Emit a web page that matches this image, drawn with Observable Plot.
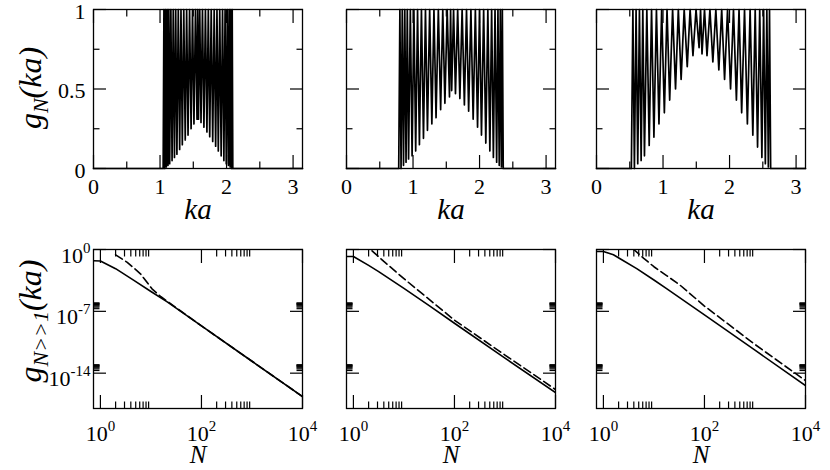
<!DOCTYPE html>
<html><head><meta charset="utf-8">
<script src="https://cdn.jsdelivr.net/npm/d3@7"></script>
<script src="https://cdn.jsdelivr.net/npm/@observablehq/plot@0.6"></script>
<style>
html,body{margin:0;padding:0;background:#fff;color:#000;}
#chart{position:relative;width:830px;height:470px;overflow:hidden;background:#fff;font-family:Liberation Serif;}
#chart svg{position:absolute;}
#chart svg text{font-family:Liberation Serif;}
</style></head><body><div id="chart"></div>
<script>
// ---------------- DATA: top row, g_N(ka) ----------------
const bandEdges = [[1.047, 2.094], [0.785, 2.356], [0.524, 2.618]];
const dipKa1 = [1.070,1.095,1.120,1.145,1.181,1.217,1.254,1.295,1.335,1.379,1.421,1.467,1.510,1.556,1.578,1.616,1.660,1.705,1.747,1.792,1.836,1.876,1.919,1.960,1.996,2.028,2.054,2.076];
const dipG1  = [0.00,0.01,0.02,0.03,0.05,0.07,0.09,0.12,0.15,0.18,0.21,0.25,0.28,0.31,0.31,0.29,0.26,0.23,0.20,0.17,0.14,0.11,0.08,0.05,0.03,0.02,0.01,0.00];
const dipKa2 = [0.820,0.857,0.895,0.933,0.986,1.040,1.096,1.157,1.217,1.283,1.346,1.415,1.479,1.548,1.581,1.638,1.704,1.772,1.836,1.904,1.970,2.029,2.094,2.155,2.208,2.257,2.296,2.329];
const dipG2  = [0.00,0.02,0.04,0.06,0.08,0.11,0.15,0.19,0.24,0.28,0.32,0.37,0.41,0.45,0.49,0.47,0.44,0.40,0.36,0.31,0.26,0.21,0.16,0.11,0.07,0.04,0.02,0.01];
const dipKa3 = [0.570,0.620,0.671,0.721,0.792,0.863,0.939,1.020,1.100,1.188,1.272,1.364,1.450,1.542,1.586,1.661,1.749,1.839,1.925,2.015,2.103,2.182,2.268,2.350,2.421,2.486,2.538,2.583];
const dipG3  = [0.00,0.03,0.05,0.08,0.145,0.197,0.28,0.35,0.43,0.50,0.56,0.64,0.71,0.76,0.72,0.71,0.67,0.62,0.56,0.50,0.43,0.35,0.28,0.21,0.135,0.07,0.03,0.01];
const kaMajor = [0, 1, 2, 3];
const kaMinor = [0.5, 1.5, 2.5];
const gMajor = [0, 0.5, 1];
const gMinor = [0.25, 0.75];

// ---------------- DATA: bottom row, g_{N>>1}(ka), log10 values ----------------
const solidN1 = [0.73, 1, 2, 4.6, 10, 21, 100, 1000, 10000];
const solidLog1 = [-1.28, -1.30, -2.17, -3.49, -4.75, -5.93, -8.65, -12.65, -16.65];
const dashN1 = [2, 3.4, 6.2, 10.5, 15.8, 31.6, 100, 1000, 10000];
const dashLog1 = [-0.60, -1.45, -2.75, -4.45, -5.35, -6.60, -8.65, -12.65, -16.65];
const solidN2 = [0.73, 1, 2, 3.16, 10, 31.6, 100, 1000, 10000];
const solidLog2 = [-0.79, -0.79, -1.80, -2.50, -4.40, -6.35, -8.35, -12.30, -16.20];
const dashN2 = [1.58, 2.19, 4, 10, 31.6, 100, 1000, 10000];
const dashLog2 = [0.80, 0.00, -1.35, -3.30, -5.65, -8.00, -11.95, -15.85];
const solidN3 = [0.73, 1, 1.58, 2.14, 4.57, 10, 17.8, 100, 1000, 10000];
const solidLog3 = [-0.22, -0.22, -0.60, -1.05, -2.17, -3.45, -4.42, -7.40, -11.40, -15.40];
const dashN3 = [2.5, 3.98, 6.3, 10, 17.8, 31.6, 100, 1000, 10000];
const dashLog3 = [0.90, 0.00, -1.00, -1.95, -2.95, -3.95, -6.40, -10.75, -14.85];
const nMajor = [1, 100, 10000];
const nMinor = [2,3,4,5,6,7,8,9,200,300,400,500,600,700,800,900];
const yMajorLog = [1, 1e-7, 1e-14];
const yMinorLog = [2e-7,3e-7,4e-7,5e-7,6e-7,7e-7,8e-7,9e-7,2e-14,3e-14,4e-14,5e-14,6e-14,7e-14,8e-14,9e-14];

// ---------------- layout ----------------
const FONT = "Liberation Serif";
const frameLefts = [93, 346, 596];
const frameTops = [9, 249];
const FW = 209, FH = 159;
const container = document.getElementById("chart");
const svgStyle = {"background": "transparent", "overflow": "visible", "font-family": FONT, "max-width": "none", "color": "black"};

function tickMarks(xs, xsMinor, ys, ysMinor) {
  const big = 13, small = 6.5, sw = 1.2, none = () => "";
  const m = [];
  for (const [vals, s] of [[xs, big], [xsMinor, small]]) {
    m.push(Plot.axisX(vals, {anchor: "bottom", tickSize: s, dy: -s, tickFormat: none, label: null, strokeWidth: sw}));
    m.push(Plot.axisX(vals, {anchor: "top", tickSize: s, dy: s, tickFormat: none, label: null, strokeWidth: sw}));
  }
  for (const [vals, s] of [[ys, big], [ysMinor, small]]) {
    m.push(Plot.axisY(vals, {anchor: "left", tickSize: s, dx: s, tickFormat: none, label: null, strokeWidth: sw}));
    m.push(Plot.axisY(vals, {anchor: "right", tickSize: s, dx: -s, tickFormat: none, label: null, strokeWidth: sw}));
  }
  return m;
}

function place(svg, col, row, mL, mT) {
  svg.style.left = (frameLefts[col] - mL) + "px";
  svg.style.top = (frameTops[row] - mT) + "px";
  container.appendChild(svg);
}

function yLabel(svg, x, y, sub) {
  const t = d3.select(svg).append("text")
    .attr("transform", `translate(${x},${y}) rotate(-90)`)
    .attr("text-anchor", "middle").attr("font-family", FONT)
    .attr("font-style", "italic").attr("font-size", 32).attr("fill", "black");
  t.append("tspan").text("g");
  t.append("tspan").attr("font-size", 22).attr("dy", 7).text(sub);
  t.append("tspan").attr("dy", -7).text("(ka)");
}

function superscripts(svg) {
  d3.select(svg).selectAll("text").each(function () {
    const m = /^10\^(-?\d+)$/.exec(this.textContent);
    if (!m) return;
    const t = d3.select(this);
    t.text(null);
    t.append("tspan").text("10");
    t.append("tspan").attr("dy", -10).attr("font-size", 15).text(m[1]);
  });
}

const dipKas = [dipKa1, dipKa2, dipKa3];
const dipGs = [dipG1, dipG2, dipG3];

for (let c = 0; c < 3; c++) {
  const [eL, eR] = bandEdges[c];
  const pts = [{ka: 0, g: 0}, {ka: eL, g: 0}];
  let prev = eL;
  dipKas[c].forEach((k, j) => {
    pts.push({ka: (prev + k) / 2, g: 1});
    pts.push({ka: k, g: dipGs[c][j]});
    prev = k;
  });
  pts.push({ka: (prev + eR) / 2, g: 1});
  pts.push({ka: eR, g: 0});
  pts.push({ka: Math.PI, g: 0});

  const mL = c === 0 ? 93 : 45, mT = 9, mR = 30, mB = 62;
  const marks = [
    Plot.line(pts, {x: "ka", y: "g", stroke: "black", strokeWidth: 1.7}),
    Plot.frame({stroke: "black", strokeWidth: 1.3}),
    ...tickMarks(kaMajor, kaMinor, gMajor, gMinor),
    Plot.axisX(kaMajor, {anchor: "bottom", tickSize: 0, tickPadding: 9.5, fontSize: 22, fontFamily: FONT, tickFormat: d => String(d), label: null}),
    Plot.text(["ka"], {text: d => d, frameAnchor: "bottom", lineAnchor: "middle", dy: 41, fontSize: 29, fontStyle: "italic", fontFamily: FONT})
  ];
  if (c === 0) marks.push(Plot.axisY(gMajor, {anchor: "left", tickSize: 0, tickPadding: 8, dy: 2, fontSize: 22, fontFamily: FONT, tickFormat: d => String(d), label: null}));
  const svg = Plot.plot({
    width: mL + FW + mR, height: mT + FH + mB,
    marginLeft: mL, marginRight: mR, marginTop: mT, marginBottom: mB,
    x: {domain: [0, Math.PI], axis: null}, y: {domain: [0, 1], axis: null},
    style: svgStyle,
    marks
  });
  if (c === 0) yLabel(svg, 41, 88 - frameTops[0] + mT, "N");
  place(svg, c, 0, mL, mT);
}

const solids = [[solidN1, solidLog1], [solidN2, solidLog2], [solidN3, solidLog3]];
const dashes = [[dashN1, dashLog1], [dashN2, dashLog2], [dashN3, dashLog3]];
const logFmt = d => "10^" + Math.round(Math.log10(d));

for (let c = 0; c < 3; c++) {
  const solid = solids[c][0].map((n, i) => ({N: n, g: 10 ** solids[c][1][i]}));
  const dash = dashes[c][0].map((n, i) => ({N: n, g: 10 ** dashes[c][1][i]}));
  const mL = c === 0 ? 93 : 45, mT = 20, mR = 30, mB = 62;
  const marks = [
    Plot.line(solid, {x: "N", y: "g", stroke: "black", strokeWidth: 1.6, clip: true}),
    Plot.line(dash, {x: "N", y: "g", stroke: "black", strokeWidth: 1.6, strokeDasharray: "8,4", clip: true}),
    Plot.frame({stroke: "black", strokeWidth: 1.3}),
    ...tickMarks(nMajor, nMinor, yMajorLog, yMinorLog),
    Plot.axisX(nMajor, {anchor: "bottom", tickSize: 0, tickPadding: 17, fontSize: 22, fontFamily: FONT, tickFormat: logFmt, label: null}),
    Plot.text(["N"], {text: d => d, frameAnchor: "bottom", lineAnchor: "middle", dy: 46.5, fontSize: 25, fontStyle: "italic", fontFamily: FONT})
  ];
  if (c === 0) marks.push(Plot.axisY(yMajorLog, {anchor: "left", tickSize: 0, tickPadding: 3, dy: 6, fontSize: 22, fontFamily: FONT, tickFormat: logFmt, label: null}));
  const svg = Plot.plot({
    width: mL + FW + mR, height: mT + FH + mB,
    marginLeft: mL, marginRight: mR, marginTop: mT, marginBottom: mB,
    x: {type: "log", domain: [0.73, 10000], axis: null},
    y: {type: "log", domain: [1e-18, 1], axis: null},
    style: svgStyle,
    marks
  });
  superscripts(svg);
  if (c === 0) yLabel(svg, 41, 321 - frameTops[1] + mT, "N>>1");
  place(svg, c, 1, mL, mT);
}
</script></body></html>
